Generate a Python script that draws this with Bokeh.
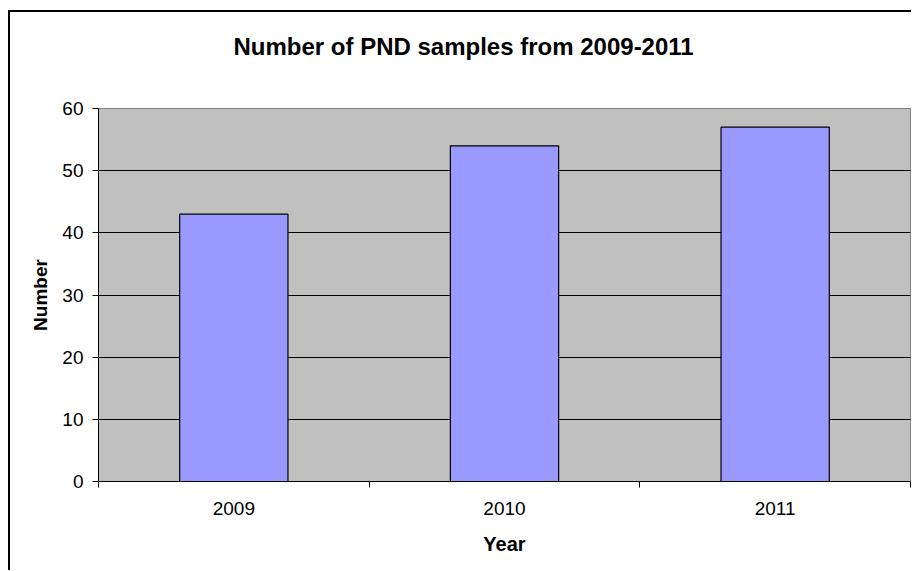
from bokeh.plotting import figure
from bokeh.models import FixedTicker, ColumnDataSource, Range1d, Title
from bokeh.embed import file_html
from bokeh.resources import INLINE

# ---- data ----
title_text = "Number of PND samples from 2009-2011"
years = ["2009", "2010", "2011"]
samples = [43, 54, 57]
y_ticks = [0, 10, 20, 30, 40, 50, 60]

x_pos = [i + 0.5 for i in range(len(years))]
source = ColumnDataSource(data=dict(x=x_pos, top=samples, year=years))

FONT = "Liberation Sans"

p = figure(
    output_backend="svg",
    toolbar_location=None,
    frame_width=812,
    frame_height=373,
    min_border_left=88,
    min_border_top=96,
    min_border_right=1,
    min_border_bottom=89,
    x_range=Range1d(0, len(years)),
    y_range=Range1d(0, 60),
)
p.styles = {"border-left": "2px solid #000", "border-top": "2px solid #000",
            "margin-top": "10px", "margin-left": "8px"}

p.title = Title(text=title_text + "\n", align="left", offset=135, vertical_align="top",
                text_font=FONT, text_font_size="24px", text_font_style="bold",
                text_color="#000000", standoff=40)

p.background_fill_color = "#C0C0C0"
p.border_fill_color = "#FFFFFF"
p.outline_line_color = "#808080"
p.outline_line_width = 1

p.vbar(x="x", top="top", width=0.4, source=source, fill_color="#9999FF",
       line_color="#000000", line_width=1.2)

# grid
p.xgrid.visible = False
p.ygrid.ticker = FixedTicker(ticks=y_ticks[:-1])
p.ygrid.grid_line_color = "#000000"
p.ygrid.grid_line_width = 1

# x axis
xa = p.xaxis[0]
xa.ticker = FixedTicker(ticks=x_pos, minor_ticks=list(range(len(years) + 1)))
xa.major_label_overrides = {x: y for x, y in zip(x_pos, years)}
xa.major_tick_out = 0
xa.major_tick_in = 0
xa.minor_tick_out = 6
xa.minor_tick_in = 0
xa.minor_tick_line_color = "#000000"
xa.axis_line_color = "#000000"
xa.major_label_text_font = FONT
xa.major_label_text_font_size = "19px"
xa.major_label_text_color = "#000000"
xa.major_label_standoff = 14
xa.axis_label = "Year"
xa.axis_label_text_font = FONT
xa.axis_label_text_font_size = "20px"
xa.axis_label_text_font_style = "bold"
xa.axis_label_text_color = "#000000"
xa.axis_label_standoff = 15

# y axis
ya = p.yaxis[0]
ya.ticker = FixedTicker(ticks=y_ticks)
ya.major_tick_out = 6
ya.major_tick_in = 0
ya.minor_tick_line_color = None
ya.major_tick_line_color = "#000000"
ya.axis_line_color = "#000000"
ya.major_label_text_font = FONT
ya.major_label_text_font_size = "19px"
ya.major_label_text_color = "#000000"
ya.major_label_standoff = 9
ya.axis_label = "Number"
ya.axis_label_text_font = FONT
ya.axis_label_text_font_size = "19px"
ya.axis_label_text_font_style = "bold"
ya.axis_label_text_color = "#000000"
ya.axis_label_standoff = 8

open("out.html", "w").write(file_html(p, INLINE))
